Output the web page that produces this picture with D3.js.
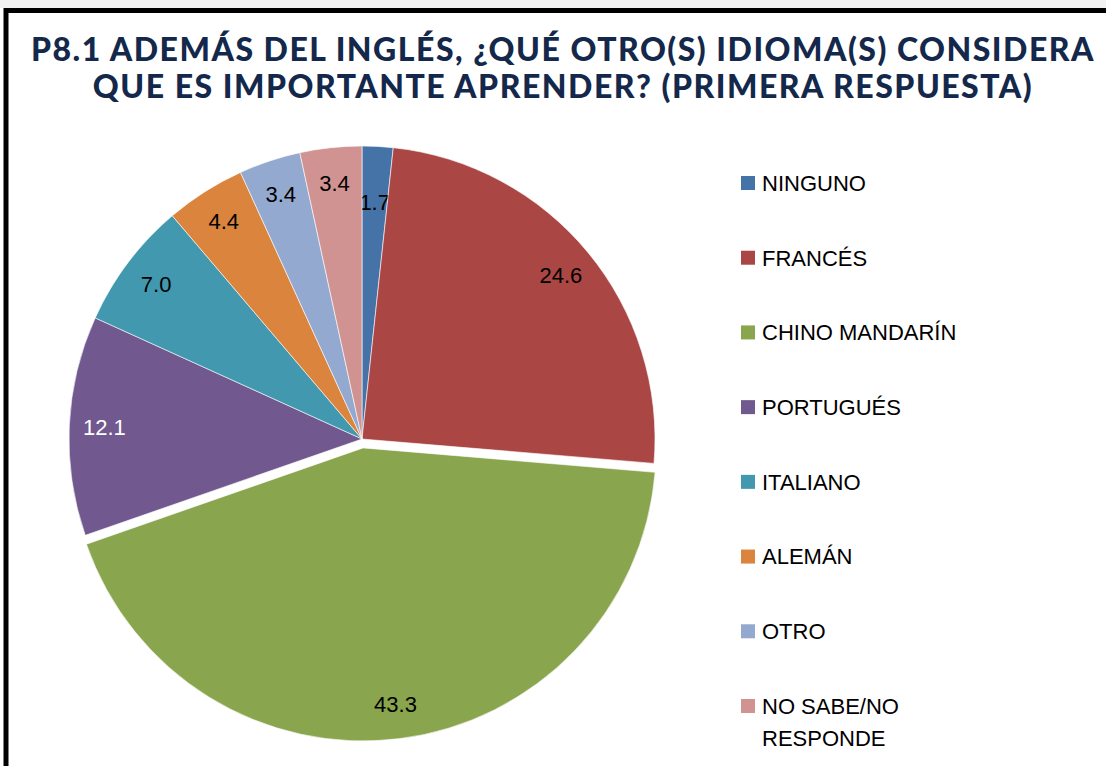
<!DOCTYPE html>
<html>
<head>
<meta charset="utf-8">
<script src="https://cdn.jsdelivr.net/npm/d3@7"></script>
<style>
  html, body { margin: 0; padding: 0; background: #fff; }
  svg { display: block; }
</style>
</head>
<body>
<div id="chart-area"></div>
<script>
const canvas_width = 1106;
const canvas_height = 766;

// data
const categories = ['NINGUNO', 'FRANCÉS', 'CHINO MANDARÍN', 'PORTUGUÉS', 'ITALIANO', 'ALEMÁN', 'OTRO', 'NO SABE/NO RESPONDE'];
const values = [1.7, 24.6, 43.3, 12.1, 7.0, 4.4, 3.4, 3.4];
const colors = ['#4572A7', '#AA4643', '#89A54E', '#71588F', '#4198AF', '#DB843D', '#93A9CF', '#D19392'];
const titleLines = ['P8.1 ADEMÁS DEL INGLÉS, ¿QUÉ OTRO(S) IDIOMA(S) CONSIDERA', 'QUE ES IMPORTANTE APRENDER? (PRIMERA RESPUESTA)'];

const center = { x: 362, y: 439 };
const radius = 293;
const explode = 9;

let canvas = d3.select('#chart-area').append('svg')
    .attr('width', canvas_width)
    .attr('height', canvas_height);

// faint strip above the frame
canvas.append('rect')
    .attr('x', 0).attr('y', 0)
    .attr('width', canvas_width).attr('height', 8)
    .attr('fill', '#f2f2f2');

// black frame (runs off the right and bottom edges)
canvas.append('rect')
    .attr('x', 6).attr('y', 10.5)
    .attr('width', canvas_width + 20).attr('height', canvas_height + 20)
    .attr('fill', '#fff')
    .attr('stroke', '#000')
    .attr('stroke-width', 5);

canvas.selectAll('text.title').data(titleLines).enter().append('text')
    .attr('class', 'title')
    .attr('x', 563)
    .attr('y', (d, i) => 61 + i * 37)
    .attr('text-anchor', 'middle')
    .attr('font-family', 'Lato, "Open Sans", sans-serif')
    .attr('font-weight', 900)
    .attr('font-size', '32px')
    .attr('letter-spacing', '1.5px')
    .attr('fill', '#14284B')
    .text((d) => d);

let pie = d3.pie().sort(null).value((d) => d.value);
let slices = pie(categories.map((c, i) => ({ name: c, value: values[i], color: colors[i] })));

let arc = d3.arc().innerRadius(0).outerRadius(radius);
let labelArc = d3.arc().innerRadius(radius * 0.88).outerRadius(radius * 0.88);
let smallLabelArc = d3.arc().innerRadius(radius * 0.81).outerRadius(radius * 0.81);

let group = canvas.append('g').attr('transform', `translate(${center.x}, ${center.y})`);

// biggest slice is pulled out a bit
let offset = (d) => {
    if (d.data.name !== 'CHINO MANDARÍN') return [0, 0];
    let mid = (d.startAngle + d.endAngle) / 2;
    return [Math.sin(mid) * explode, -Math.cos(mid) * explode];
};

let g = group.selectAll('g.slice').data(slices).enter().append('g')
    .attr('class', 'slice')
    .attr('transform', (d) => `translate(${offset(d)})`);

g.append('path')
    .attr('d', arc)
    .attr('fill', (d) => d.data.color)
    .attr('stroke', '#fff')
    .attr('stroke-width', 0.6);

g.append('text')
    .attr('transform', (d) => {
        let a = (d.endAngle - d.startAngle) < 0.15 && d.index === 0 ? smallLabelArc : labelArc;
        return `translate(${a.centroid(d)})`;
    })
    .attr('text-anchor', 'middle')
    .attr('dy', '0.36em')
    .attr('font-family', '"Liberation Sans", Arial, sans-serif')
    .attr('font-size', '22px')
    .attr('fill', (d) => d.data.name === 'PORTUGUÉS' ? '#fff' : '#000')
    .text((d) => d.data.value.toFixed(1));

// legend
let legendY = d3.scalePoint().domain(categories).range([183, 706]);

let legend = canvas.selectAll('g.legend').data(categories).enter().append('g')
    .attr('class', 'legend')
    .attr('transform', (d) => `translate(741, ${legendY(d)})`);

legend.append('rect')
    .attr('x', 0).attr('y', -7)
    .attr('width', 14).attr('height', 14)
    .attr('fill', (d, i) => colors[i]);

legend.append('text')
    .attr('x', 21)
    .attr('y', 0)
    .attr('font-family', '"Liberation Sans", Arial, sans-serif')
    .attr('font-size', '22px')
    .attr('fill', '#000')
    .each(function(d) {
        let lines = d === 'NO SABE/NO RESPONDE' ? ['NO SABE/NO', 'RESPONDE'] : [d];
        d3.select(this).selectAll('tspan').data(lines).enter().append('tspan')
            .attr('x', 21)
            .attr('dy', (l, i) => i === 0 ? '0.36em' : '1.45em')
            .text((l) => l);
    });
</script>
</body>
</html>
